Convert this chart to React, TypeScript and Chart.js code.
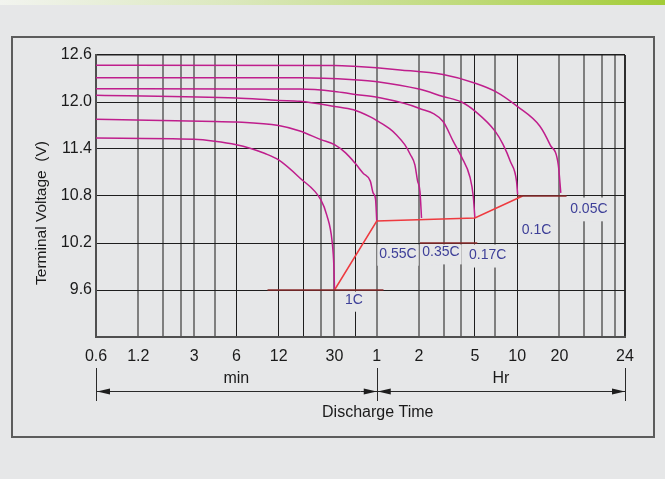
import { useEffect, useRef } from 'react';
import { Chart, registerables } from 'chart.js';

Chart.register(...registerables);

// ---- axes (x = discharge time in minutes, logarithmic) ----
const xGridMinutes = [0.6, 1.2, 1.8, 2.4, 3, 4.2, 6, 12, 18, 24, 30, 42, 60, 120, 180, 240, 300, 420, 600, 1200, 1800, 2400, 3000, 3520];
const xDarkGridMinutes = [6, 12, 18, 42, 300, 600];
const xLabelMinutes = [0.6, 1.2, 3, 6, 12, 30, 60, 120, 300, 600, 1200, 3520];
const xLabelTexts = ['0.6', '1.2', '3', '6', '12', '30', '1', '2', '5', '10', '20', '24'];
const yTickValues = [9.0, 9.6, 10.2, 10.8, 11.4, 12.0, 12.6];

// ---- discharge curves (time in minutes, terminal voltage in V) ----
const c005Time = [0.6, 30, 41, 88, 178, 302, 419, 605, 872, 1029, 1178, 1228];
const c005Volt = [12.47, 12.465, 12.455, 12.41, 12.35, 12.24, 12.135, 11.94, 11.69, 11.455, 11.2, 10.84];

const c01Time = [0.6, 17, 41, 60.5, 120, 178, 241, 302, 419, 477, 537, 594, 605];
const c01Volt = [12.31, 12.31, 12.285, 12.26, 12.165, 12.07, 12.0, 11.88, 11.625, 11.455, 11.24, 10.99, 10.82];

const c017Time = [0.6, 6, 17, 30, 41, 60.5, 120, 178, 210, 241, 277, 292, 300];
const c017Volt = [12.17, 12.165, 12.165, 12.135, 12.1, 12.06, 11.92, 11.75, 11.5, 11.3, 11.04, 10.8, 10.52];

const c035Time = [0.6, 6, 12, 17, 30, 41, 54, 60.5, 74, 83, 95, 104, 112, 117, 122, 125];
const c035Volt = [12.085, 12.05, 12.02, 12.01, 11.944, 11.9, 11.81, 11.76, 11.66, 11.58, 11.455, 11.33, 11.2, 11.0, 10.85, 10.52];

const c055Time = [0.6, 4.2, 6, 12, 17, 24, 30, 36, 42, 48, 54, 56.5, 58.8, 60];
const c055Volt = [11.78, 11.75, 11.745, 11.7, 11.63, 11.52, 11.455, 11.35, 11.22, 11.09, 10.99, 10.84, 10.76, 10.48];

const c1Time = [0.6, 3, 4.2, 6, 7.5, 9.5, 12, 17, 24, 26.5, 28.8, 29.7, 30];
const c1Volt = [11.54, 11.525, 11.5, 11.455, 11.41, 11.345, 11.26, 11.03, 10.75, 10.55, 10.23, 9.9, 9.6];

// ---- end-of-discharge line and cut-off voltage markers ----
const endTime = [30, 60, 300, 656];
const endVolt = [9.6, 10.48, 10.52, 10.8];

const cutoffVolt = [9.6, 10.2, 10.8];
const cutoffStart = [10, 122, 600];
const cutoffEnd = [67, 312, 1350];

// ---- rate labels ----
const rateNames = ['1C', '0.55C', '0.35C', '0.17C', '0.1C', '0.05C'];
const rateLabelTime = [41.3, 85, 172, 370, 826, 1946];
const rateLabelVolt = [9.476, 10.063, 10.08, 10.04, 10.36, 10.63];

const FONT = '"Liberation Sans", Arial, Helvetica, sans-serif';
const BG = '#e6e7e8';
const CURVE = '#bf1e8c';

const toPoints = (t: number[], v: number[]) => t.map((x, i) => ({ x, y: v[i] }));

const curves = [
  [c005Time, c005Volt],
  [c01Time, c01Volt],
  [c017Time, c017Volt],
  [c035Time, c035Volt],
  [c055Time, c055Volt],
  [c1Time, c1Volt],
];

const framePlugin = {
  id: 'frame',
  beforeDraw(chart: any) {
    const { ctx, width, height } = chart;
    ctx.save();
    ctx.fillStyle = BG;
    ctx.fillRect(0, 0, width, height);
    const g = ctx.createLinearGradient(0, 0, width, 0);
    g.addColorStop(0, '#f2f4ef');
    g.addColorStop(0.35, '#dbe8bd');
    g.addColorStop(0.7, '#bfda7a');
    g.addColorStop(1, '#a3cc37');
    ctx.fillStyle = g;
    ctx.fillRect(0, 0, width, 5);
    ctx.strokeStyle = '#5c5c5c';
    ctx.lineWidth = 2;
    ctx.strokeRect(12, 37, 642, 400);
    ctx.restore();
  },
};

const labelBoxPlugin = {
  id: 'labelBoxes',
  beforeDatasetsDraw(chart: any) {
    const { ctx } = chart;
    const xs = chart.scales.x;
    const ys = chart.scales.y;
    const gridPx = yTickValues.map((v) => ys.getPixelForValue(v));
    ctx.save();
    ctx.font = '14px ' + FONT;
    ctx.fillStyle = BG;
    rateNames.forEach((name, i) => {
      const cx = xs.getPixelForValue(rateLabelTime[i]);
      const cy = ys.getPixelForValue(rateLabelVolt[i]);
      const w = ctx.measureText(name).width;
      let top = cy - 12;
      let bottom = cy + 12;
      gridPx.forEach((p) => {
        if (p < cy && p + 1.5 > top) top = p + 1.5;
        if (p > cy && p - 1.5 < bottom) bottom = p - 1.5;
      });
      ctx.fillRect(cx - w / 2 - 2, top, w + 4, bottom - top);
    });
    ctx.restore();
  },
};

const annotationPlugin = {
  id: 'annotations',
  afterDatasetsDraw(chart: any) {
    const { ctx } = chart;
    const xs = chart.scales.x;
    const ys = chart.scales.y;
    ctx.save();
    // rate labels
    ctx.font = '14px ' + FONT;
    ctx.fillStyle = '#3d3f98';
    ctx.textAlign = 'center';
    ctx.textBaseline = 'middle';
    rateNames.forEach((name, i) => {
      ctx.fillText(name, xs.getPixelForValue(rateLabelTime[i]), ys.getPixelForValue(rateLabelVolt[i]));
    });

    // y axis title
    ctx.fillStyle = '#1a1a1a';
    ctx.font = '15.5px ' + FONT;
    ctx.save();
    ctx.translate(42, 213);
    ctx.rotate(-Math.PI / 2);
    ctx.fillText('Terminal Voltage  (V)', 0, 0);
    ctx.restore();

    // time span annotation under the axis
    const x0 = xs.getPixelForValue(xGridMinutes[0]);
    const x1 = xs.getPixelForValue(60);
    const x2 = xs.getPixelForValue(xGridMinutes[xGridMinutes.length - 1]);
    const yl = 391.5;
    ctx.strokeStyle = '#2a2a2a';
    ctx.lineWidth = 1;
    ctx.beginPath();
    [x0, x1, x2].forEach((x) => {
      const ax = Math.round(x) + 0.5;
      ctx.moveTo(ax, 368);
      ctx.lineTo(ax, 401);
    });
    ctx.moveTo(x0, yl);
    ctx.lineTo(x2, yl);
    ctx.stroke();
    ctx.fillStyle = '#1e1e1e';
    const arrow = (tip: number, dir: number) => {
      ctx.beginPath();
      ctx.moveTo(tip, yl);
      ctx.lineTo(tip + dir * 13, yl - 3);
      ctx.lineTo(tip + dir * 13, yl + 3);
      ctx.closePath();
      ctx.fill();
    };
    arrow(x0 + 1, 1);
    arrow(x1, -1);
    arrow(x1 + 1, 1);
    arrow(x2, -1);

    ctx.font = '16px ' + FONT;
    ctx.fillStyle = '#1a1a1a';
    ctx.fillText('min', (x0 + x1) / 2, 379);
    ctx.fillText('Hr', (x1 + x2) / 2, 379);
    ctx.fillText('Discharge Time', x1 + 1, 413);
    ctx.restore();
  },
};

export default function App() {
  const ref = useRef<HTMLCanvasElement | null>(null);

  useEffect(() => {
    document.body.style.margin = '0';
    const canvas = ref.current;
    if (!canvas) return;

    const datasets: any[] = [];
    cutoffVolt.forEach((v, i) => {
      datasets.push({
        data: toPoints([cutoffStart[i], cutoffEnd[i]], [v, v]),
        borderColor: '#8a2b2b',
        borderWidth: 1.6,
        showLine: true,
        pointRadius: 0,
        tension: 0,
      });
    });
    datasets.push({
      data: toPoints(endTime, endVolt),
      borderColor: '#ee3a3f',
      borderWidth: 1.5,
      showLine: true,
      pointRadius: 0,
      tension: 0,
    });
    curves.forEach(([t, v]) => {
      datasets.push({
        data: toPoints(t, v),
        borderColor: CURVE,
        borderWidth: 1.5,
        showLine: true,
        pointRadius: 0,
        cubicInterpolationMode: 'monotone',
      });
    });

    const xMax = xGridMinutes[xGridMinutes.length - 1];

    const chart = new Chart(canvas, {
      type: 'scatter',
      data: { datasets },
      options: {
        animation: false,
        responsive: false,
        maintainAspectRatio: false,
        events: [],
        layout: { padding: { top: 55, right: 40, bottom: 0, left: 0 } },
        plugins: {
          legend: { display: false },
          tooltip: { enabled: false },
          title: { display: false },
        },
        scales: {
          x: {
            type: 'logarithmic',
            min: xGridMinutes[0],
            max: xMax,
            afterBuildTicks: (s: any) => {
              s.ticks = xGridMinutes.map((value) => ({ value }));
            },
            afterFit: (s: any) => {
              s.height = 142;
            },
            ticks: {
              autoSkip: false,
              maxRotation: 0,
              minRotation: 0,
              padding: 10,
              color: '#1a1a1a',
              font: { size: 16, family: FONT },
              callback: (value: any) => {
                const i = xLabelMinutes.indexOf(Number(value));
                return i >= 0 ? xLabelTexts[i] : '';
              },
            },
            grid: {
              drawTicks: false,
              color: (c: any) => {
                const v = c.tick ? c.tick.value : 0;
                if (v === xMax) return '#2e2e2e';
                return xDarkGridMinutes.includes(v) ? '#1e1e1e' : '#7f7f7f';
              },
              lineWidth: (c: any) => {
                const v = c.tick ? c.tick.value : 0;
                if (v === xMax) return 2;
                return xDarkGridMinutes.includes(v) ? 1 : 2;
              },
            },
            border: { color: '#4f4f4f', width: 2 },
          },
          y: {
            type: 'linear',
            min: yTickValues[0],
            max: yTickValues[yTickValues.length - 1],
            afterBuildTicks: (s: any) => {
              s.ticks = yTickValues.map((value) => ({ value }));
            },
            afterFit: (s: any) => {
              s.width = 96;
            },
            ticks: {
              padding: 4,
              color: '#1a1a1a',
              font: { size: 16, family: FONT },
              callback: (value: any) => (Number(value) === yTickValues[0] ? '' : Number(value).toFixed(1)),
            },
            grid: {
              drawTicks: false,
              color: '#1e1e1e',
              lineWidth: (c: any) => (c.tick && c.tick.value === yTickValues[yTickValues.length - 1] ? 1.5 : 1),
            },
            border: { color: '#4f4f4f', width: 2 },
          },
        },
      },
      plugins: [framePlugin, labelBoxPlugin, annotationPlugin],
    } as any);

    return () => chart.destroy();
  }, []);

  return <canvas ref={ref} width={665} height={479} style={{ display: 'block', width: 665, height: 479 }} />;
}
